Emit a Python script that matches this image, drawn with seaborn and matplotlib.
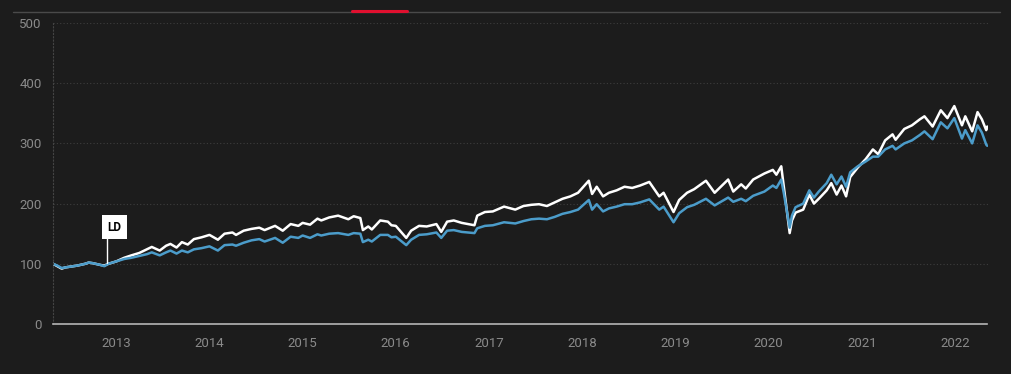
import pandas as pd
import numpy as np
import matplotlib.pyplot as plt
import matplotlib.dates as mdates
import seaborn as sns

# Series values (index, base 100)
dates = [
    "2012-04-28", "2012-05-15", "2012-06-01", "2012-06-15", "2012-07-01", "2012-08-01",
    "2012-09-01", "2012-09-15", "2012-10-01", "2012-11-01", "2012-11-15", "2012-12-01",
    "2013-01-01", "2013-02-01", "2013-03-01", "2013-04-01", "2013-05-01", "2013-05-20",
    "2013-06-20", "2013-07-15", "2013-08-01", "2013-08-25", "2013-09-15", "2013-10-08",
    "2013-11-01", "2013-12-01", "2014-01-01", "2014-02-03", "2014-03-01", "2014-04-01",
    "2014-04-15", "2014-05-15", "2014-06-15", "2014-07-15", "2014-08-05", "2014-09-15",
    "2014-10-15", "2014-11-15", "2014-12-15", "2015-01-01", "2015-01-30", "2015-02-28",
    "2015-03-15", "2015-04-15", "2015-05-20", "2015-06-29", "2015-07-20", "2015-08-15",
    "2015-08-25", "2015-09-15", "2015-09-29", "2015-11-01", "2015-12-01", "2015-12-15",
    "2016-01-01", "2016-02-11", "2016-03-01", "2016-04-01", "2016-05-01", "2016-06-08",
    "2016-06-27", "2016-07-20", "2016-08-15", "2016-09-15", "2016-11-04", "2016-11-15",
    "2016-12-15", "2017-01-15", "2017-02-28", "2017-04-13", "2017-05-15", "2017-06-15",
    "2017-07-15", "2017-08-15", "2017-09-15", "2017-10-15", "2017-11-15", "2017-12-15",
    "2018-01-26", "2018-02-08", "2018-02-26", "2018-03-23", "2018-04-15", "2018-05-15",
    "2018-06-15", "2018-07-15", "2018-08-15", "2018-09-20", "2018-10-29", "2018-11-15",
    "2018-12-24", "2019-01-15", "2019-02-15", "2019-03-15", "2019-04-30", "2019-06-03",
    "2019-07-26", "2019-08-15", "2019-09-15", "2019-10-03", "2019-11-01", "2019-12-15",
    "2020-01-17", "2020-01-31", "2020-02-19", "2020-03-01", "2020-03-23", "2020-04-01",
    "2020-04-15", "2020-05-15", "2020-06-08", "2020-06-26", "2020-07-15", "2020-08-15",
    "2020-09-02", "2020-09-23", "2020-10-12", "2020-10-30", "2020-11-15", "2020-12-15",
    "2021-01-15", "2021-02-12", "2021-03-05", "2021-04-01", "2021-04-30", "2021-05-12",
    "2021-06-15", "2021-07-15", "2021-08-15", "2021-09-02", "2021-10-04", "2021-11-05",
    "2021-12-01", "2021-12-28", "2022-01-27", "2022-02-09", "2022-03-08", "2022-03-29",
    "2022-04-15", "2022-05-02", "2022-05-06",
]
white_vals = [
    100, 96, 92, 94, 95, 97, 100, 102, 101, 98, 97, 100,
    104, 110, 114, 118, 124, 128, 122, 130, 133, 127, 136, 132,
    141, 144, 148, 140, 150, 152, 148, 155, 158, 160, 156, 163,
    155, 166, 163, 168, 165, 175, 172, 177, 180, 174, 179, 176,
    156, 162, 157, 172, 170, 164, 163, 143, 155, 163, 162, 166,
    153, 170, 172, 168, 164, 180, 186, 187, 195, 190, 196, 198,
    199, 196, 202, 208, 212, 218, 238, 216, 228, 212, 218, 222,
    228, 226, 230, 236, 212, 218, 186, 206, 218, 224, 238, 218,
    240, 220, 232, 225, 240, 250, 256, 248, 262, 225, 151, 172,
    185, 190, 215, 200, 208, 222, 234, 215, 230, 212, 244, 260,
    274, 290, 282, 305, 315, 306, 324, 330, 340, 345, 328, 355,
    342, 362, 330, 345, 320, 352, 340, 322, 328,
]
blue_vals = [
    100, 97, 93, 94, 95, 97, 100, 102, 101, 98, 96, 100,
    104, 108, 110, 113, 116, 119, 114, 119, 122, 117, 122, 119,
    124, 126, 129, 122, 131, 132, 130, 135, 139, 141, 137, 143,
    135, 145, 143, 147, 143, 149, 147, 150, 151, 148, 151, 150,
    136, 140, 137, 148, 148, 144, 145, 131, 140, 148, 149, 152,
    143, 155, 156, 153, 151, 159, 163, 164, 169, 167, 171, 174,
    175, 174, 178, 183, 186, 190, 206, 190, 199, 187, 192, 195,
    199, 199, 202, 207, 190, 195, 169, 184, 194, 198, 208, 197,
    210, 203, 208, 204, 213, 220, 230, 226, 240, 215, 160, 180,
    194, 200, 222, 210, 220, 234, 248, 232, 245, 228, 252, 262,
    270, 278, 278, 290, 296, 290, 300, 305, 314, 320, 307, 335,
    325, 342, 308, 322, 300, 330, 318, 298, 296,
]
flag_date = "2012-11-27"
flag_label = "LD"
y_ticks = [0, 100, 200, 300, 400, 500]

bg = "#1c1c1c"
grey_txt = "#8a8a8a"

df = pd.DataFrame({
    "date": pd.to_datetime(dates * 2),
    "value": white_vals + blue_vals,
    "series": ["white"] * len(dates) + ["blue"] * len(dates),
})

sns.set_style("dark")
plt.rcParams["font.family"] = ["Roboto", "DejaVu Sans"]

fig = plt.figure(figsize=(10.12, 3.74), dpi=100, facecolor=bg)
ax = fig.add_axes([53 / 1012, 1 - 324 / 374, 934.5 / 1012, 301 / 374])
ax.set_facecolor(bg)

sns.lineplot(
    data=df,
    x="date",
    y="value",
    hue="series",
    hue_order=["white", "blue"],
    palette={"white": "#ffffff", "blue": "#4b9cca"},
    linewidth=1.8,
    legend=False,
    ax=ax,
)

ax.set_xlim(pd.Timestamp("2012-04-28"), pd.Timestamp("2022-05-07"))
ax.set_ylim(0, 500)
ax.set_yticks(y_ticks)
ax.xaxis.set_major_locator(mdates.YearLocator())
ax.xaxis.set_major_formatter(mdates.DateFormatter("%Y"))
ax.set_xlabel("")
ax.set_ylabel("")

# grid and spines
ax.grid(False)
for v in y_ticks[1:]:
    ax.axhline(v, color="#3d3d3d", linewidth=0.8, linestyle=(0, (1, 2)), zorder=0)
for side in ["top", "right"]:
    ax.spines[side].set_visible(False)
ax.spines["left"].set_color("#444444")
ax.spines["left"].set_linestyle((0, (1, 2)))
ax.spines["left"].set_linewidth(0.8)
ax.spines["bottom"].set_color("#b5b5b5")
ax.spines["bottom"].set_linewidth(1.2)

ax.tick_params(axis="x", colors="#b5b5b5", labelcolor=grey_txt, length=6.5,
               width=1.2, pad=3, labelsize=9.5)
ax.tick_params(axis="y", colors="#8a8a8a", labelcolor=grey_txt, length=6,
               width=1, pad=2, labelsize=9.5)

# LD flag
fx = pd.Timestamp(flag_date)
ax.plot([fx, fx], [102, 147], color="white", linewidth=1, zorder=4)
ax.text(fx, 150, flag_label, color="black", fontsize=8.5, fontweight="bold",
        ha="left", va="bottom", zorder=5,
        bbox=dict(boxstyle="square,pad=0.45", facecolor="white", edgecolor="none"))

# top rule with red accent
fig.add_artist(plt.Line2D([13 / 1012, 1000 / 1012], [1 - 12 / 374] * 2,
                          color="#4a4a4a", linewidth=1))
fig.add_artist(plt.Line2D([352 / 1012, 407 / 1012], [1 - 11 / 374] * 2,
                          color="#e0102f", linewidth=2.2))

plt.savefig("out.png", dpi=100, facecolor=bg)
plt.close()
